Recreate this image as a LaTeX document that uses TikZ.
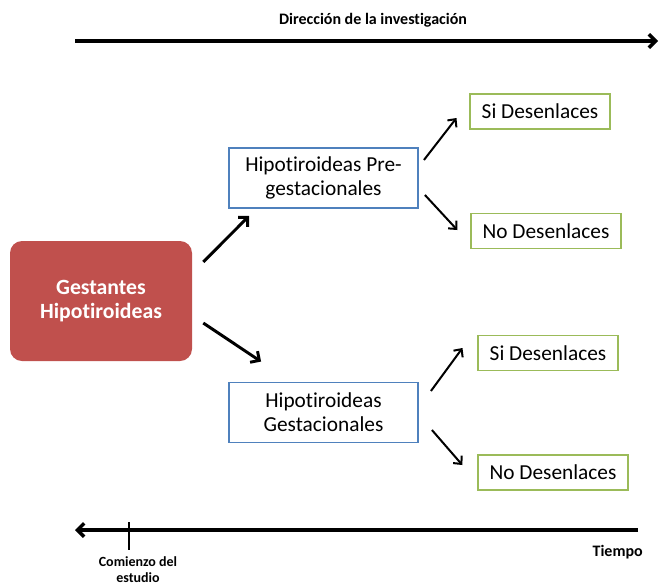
\documentclass[tikz,border=0pt]{standalone}
\usepackage{fontspec}
\setmainfont[Ligatures={NoCommon,NoContextual}]{Carlito}
\usepackage{tikz}
\usetikzlibrary{arrows.meta, positioning, calc}
\definecolor{myred}{RGB}{192,80,77}
\definecolor{myblue}{RGB}{79,129,189}
\definecolor{mygreen}{RGB}{155,187,89}
\definecolor{mydark}{RGB}{0,0,0}
\tikzset{
  mainbox/.style={rectangle, fill=myred, text=white, draw=none,
    minimum width=136.5pt, minimum height=90pt, align=center,
    font=\fontsize{16.3pt}{18pt}\selectfont\bfseries, rounded corners=9pt},
  groupbox/.style={rectangle, draw=myblue, fill=white,
    minimum width=141.75pt, minimum height=45pt, align=center,
    font=\fontsize{16pt}{18pt}\selectfont, line width=1.4pt},
  outbox/.style={rectangle, draw=mygreen, fill=white,
    inner xsep=8.5pt, minimum height=26.25pt,
    font=\fontsize{16pt}{18pt}\selectfont, line width=1.4pt},
  axislabel/.style={font=\fontsize{12pt}{14pt}\selectfont\bfseries, align=center},
  bigarrow/.style={-{Straight Barb[length=5pt,width=10pt]}, line width=2.2pt, color=mydark},
  smallarrow/.style={-{Straight Barb[length=4.5pt,width=8.5pt]}, line width=1.5pt, color=mydark},
  axis/.style={line width=2.6pt, color=mydark}
}
\begin{document}
\begin{tikzpicture}[x=0.75pt, y=-0.75pt]
  \useasboundingbox (0,0) rectangle (660,586);

  % Direction of the research
  \node[axislabel] (direccion) at (373,20) {Dirección de la investigación};
  \coordinate (dirstart) at (75,41);
  \coordinate (dirend) at (658,41);
  \draw[axis, -{Straight Barb[length=5pt,width=10pt]}] (dirstart) -- (dirend);

  % Boxes
  \node[mainbox] (gestantes) at (101,301) {Gestantes\\Hipotiroideas};
  \node[groupbox] (pregest) at (323.5,178) {Hipotiroideas Pre-\\gestacionales};
  \node[groupbox] (gest) at (323.5,412.5) {Hipotiroideas\\Gestacionales};
  \node[outbox] (si1) at (540,111.5) {Si Desenlaces};
  \node[outbox] (no1) at (546,231) {No Desenlaces};
  \node[outbox] (si2) at (548,353) {Si Desenlaces};
  \node[outbox] (no2) at (553,472.5) {No Desenlaces};

  % Arrows from the main group
  \draw[bigarrow] ([shift={(11,-39)}]gestantes.east) -- ([shift={(21,7)}]pregest.south west);
  \draw[bigarrow] ([shift={(11,22)}]gestantes.east) -- ([shift={(33,-20)}]gest.north west);

  % Arrows to the outcomes
  \draw[smallarrow] ([shift={(5,-18)}]pregest.east) -- ([shift={(-13,6.5)}]si1.west);
  \draw[smallarrow] ([shift={(6,17)}]pregest.east) -- ([shift={(-13,-1)}]no1.west);
  \draw[smallarrow] ([shift={(12,-21.5)}]gest.east) -- ([shift={(-15,-5)}]si2.west);
  \draw[smallarrow] ([shift={(13,17.5)}]gest.east) -- ([shift={(-15,-7.5)}]no2.west);

  % Time axis
  \coordinate (tstart) at (638,530);
  \coordinate (tend) at (75,530);
  \draw[axis, -{Straight Barb[length=5pt,width=10pt]}] (tstart) -- (tend);
  \coordinate (tickup) at (129,522);
  \coordinate (tickdown) at (129,550);
  \draw[line width=1.5pt, color=mydark] (tickup) -- (tickdown);
  \node[axislabel, font=\fontsize{10.5pt}{12pt}\selectfont\bfseries] (comienzo) at (138,570) {Comienzo del\\estudio};
  \node[axislabel, anchor=east, inner xsep=0pt] (tiempo) at (643,552) {Tiempo};
\end{tikzpicture}
\end{document}
